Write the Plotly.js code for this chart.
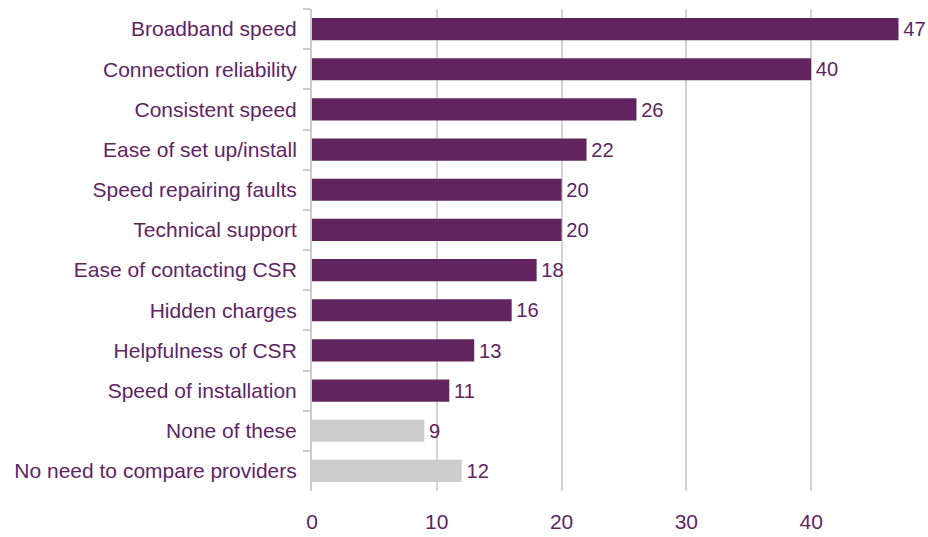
<!DOCTYPE html>
<html>
<head>
<meta charset="utf-8">
<script src="https://cdn.plot.ly/plotly-3.0.1.min.js"></script>
<style>html,body{margin:0;padding:0;background:#fff;}#chart{width:928px;height:537px;}</style>
</head>
<body>
<div id="chart"></div>
<script>
const categories = ["Broadband speed","Connection reliability","Consistent speed","Ease of set up/install","Speed repairing faults","Technical support","Ease of contacting CSR","Hidden charges","Helpfulness of CSR","Speed of installation","None of these","No need to compare providers"];
const values = [47,40,26,22,20,20,18,16,13,11,9,12];
const barColors = ["#62245F","#62245F","#62245F","#62245F","#62245F","#62245F","#62245F","#62245F","#62245F","#62245F","#CCCCCC","#CCCCCC"];
const xTicks = [0,10,20,30,40];

const purple = "#62245F";
const fam = "Liberation Sans, Arial, sans-serif";
const trace = {
  type: "bar",
  orientation: "h",
  y: categories,
  x: values,
  marker: {color: barColors},
  text: values.map(v => "\u200A" + v),
  textposition: "outside",
  cliponaxis: false,
  textfont: {family: fam, size: 21, color: purple},
  hoverinfo: "none"
};
const layout = {
  width: 928, height: 537,
  margin: {l: 312, r: 27, t: 9, b: 46},
  paper_bgcolor: "#fff", plot_bgcolor: "#fff",
  bargap: 0.45,
  showlegend: false,
  font: {family: fam, size: 21, color: purple},
  xaxis: {
    range: [0, 47.2],
    tickvals: xTicks,
    ticktext: xTicks.map(String),
    showgrid: true, gridcolor: "#D3D3D3", gridwidth: 2,
    zeroline: false, showline: false, ticks: "",
    ticklabelstandoff: 16,
    tickfont: {family: fam, size: 21, color: purple},
    fixedrange: true
  },
  yaxis: {
    type: "category",
    categoryorder: "array",
    categoryarray: categories,
    autorange: "reversed",
    showline: true, linecolor: "#CCCCCC", linewidth: 2,
    ticks: "outside", tickson: "boundaries", ticklen: 7, tickcolor: "#CCCCCC", tickwidth: 2,
    showgrid: false, zeroline: false,
    ticklabelstandoff: 9,
    tickfont: {family: fam, size: 21, color: purple},
    fixedrange: true
  }
};
Plotly.newPlot("chart", [trace], layout, {displayModeBar: false, staticPlot: true});
</script>
</body>
</html>
